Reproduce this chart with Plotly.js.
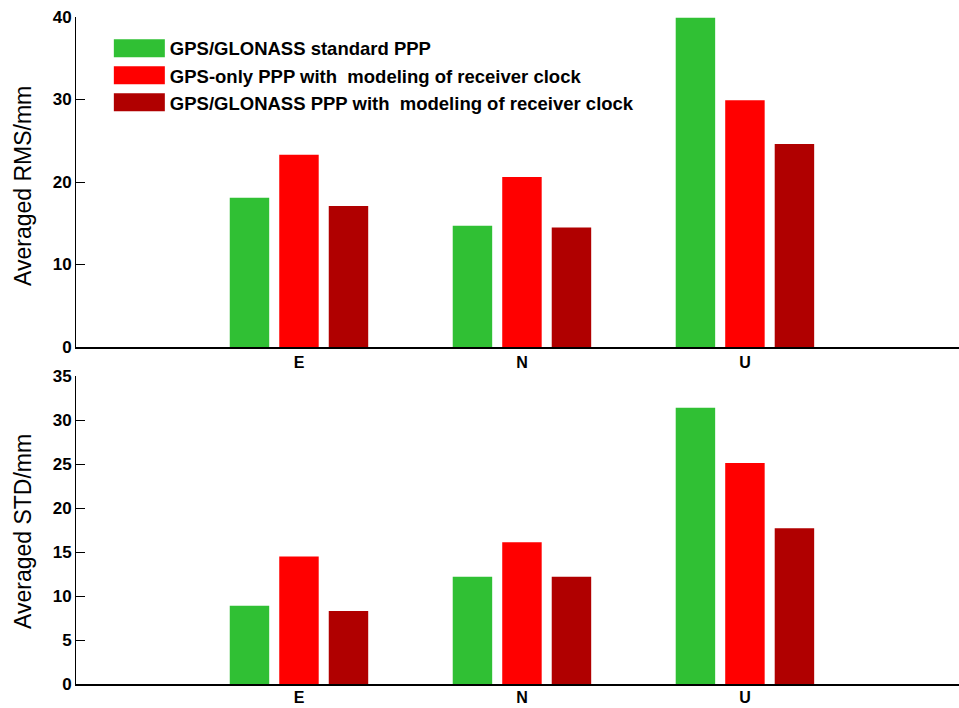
<!DOCTYPE html>
<html>
<head>
<meta charset="utf-8">
<script src="https://cdn.plot.ly/plotly-3.0.1.min.js"></script>
<style>html,body{margin:0;padding:0;background:#fff;}</style>
</head>
<body>
<div id="chart" style="width:959px;height:708px;"></div>
<script>
var categories = ['E', 'N', 'U'];
var catPos = [1, 2, 3];
var seriesNames = [
  'GPS/GLONASS standard PPP',
  'GPS-only PPP with  modeling of receiver clock',
  'GPS/GLONASS PPP with  modeling of receiver clock'
];
var rmsStandard = [18.1, 14.7, 39.9];
var rmsGpsOnly = [23.3, 20.6, 29.9];
var rmsGpsGlo = [17.1, 14.5, 24.6];
var stdStandard = [8.9, 12.2, 31.4];
var stdGpsOnly = [14.5, 16.1, 25.1];
var stdGpsGlo = [8.3, 12.2, 17.7];
var colors = ['rgb(48,192,52)', 'rgb(255,0,0)', 'rgb(176,0,0)'];

var FONT = 'Liberation Sans, Arial, Helvetica, sans-serif';

function mk(y, i, xa, ya, show) {
  return {
    type: 'bar', x: catPos, y: y, name: seriesNames[i],
    marker: {color: colors[i], line: {width: 0}},
    xaxis: xa, yaxis: ya, showlegend: show, legendgroup: 'g' + i,
    hoverinfo: 'y'
  };
}
var rmsSets = [rmsStandard, rmsGpsOnly, rmsGpsGlo];
var stdSets = [stdStandard, stdGpsOnly, stdGpsGlo];
var data = [];
for (var i = 0; i < 3; i++) data.push(mk(rmsSets[i], i, 'x', 'y', true));
for (var j = 0; j < 3; j++) data.push(mk(stdSets[j], j, 'x2', 'y2', false));

var H = 708;
function dom(topPx, botPx) { return [(H - botPx) / H, (H - topPx) / H]; }

var xCommon = {
  range: [0, 3.96], tickvals: catPos, ticktext: categories,
  showline: true, linecolor: '#000', linewidth: 1.5, ticks: '', showgrid: false,
  zeroline: false, tickfont: {family: FONT, size: 16, color: '#000', weight: 'bold'},
  fixedrange: true
};
var yCommon = {
  showline: true, linecolor: '#000', linewidth: 1, ticks: 'inside', ticklen: 9,
  tickcolor: '#000', tickwidth: 1, showgrid: false, zeroline: false,
  tickfont: {family: FONT, size: 17, color: '#000', weight: 'bold'}, fixedrange: true
};

var layout = {
  width: 959, height: 708,
  margin: {l: 76, r: 0, t: 0, b: 0},
  paper_bgcolor: '#fff', plot_bgcolor: '#fff',
  barmode: 'group', bargap: 0.334, bargroupgap: 0.203,
  showlegend: true,
  legend: {
    x: 0.027, y: 0.958, xanchor: 'left', yanchor: 'top',
    bgcolor: 'rgba(0,0,0,0)', borderwidth: 0,
    font: {family: FONT, size: 18.5, color: '#000', weight: 'bold'},
    itemwidth: 60, tracegroupgap: 1, traceorder: 'normal'
  },
  xaxis: Object.assign({}, xCommon, {domain: [0, 1], anchor: 'y'}),
  yaxis: Object.assign({}, yCommon, {domain: dom(17, 347), anchor: 'x', range: [0, 40], tickvals: [0, 10, 20, 30, 40]}),
  xaxis2: Object.assign({}, xCommon, {domain: [0, 1], anchor: 'y2', ticklabelstandoff: -2}),
  yaxis2: Object.assign({}, yCommon, {domain: dom(376, 684), anchor: 'x2', range: [0, 35], tickvals: [0, 5, 10, 15, 20, 25, 30, 35]}),
  annotations: [
    {text: 'Averaged RMS/mm', xref: 'paper', yref: 'paper', x: 0, xshift: -53, yshift: -4, y: (dom(17, 347)[0] + dom(17, 347)[1]) / 2,
     xanchor: 'center', yanchor: 'middle', textangle: -90, showarrow: false,
     font: {family: FONT, size: 23, color: '#000'}},
    {text: 'Averaged STD/mm', xref: 'paper', yref: 'paper', x: 0, xshift: -53, yshift: -2, y: (dom(376, 684)[0] + dom(376, 684)[1]) / 2,
     xanchor: 'center', yanchor: 'middle', textangle: -90, showarrow: false,
     font: {family: FONT, size: 23, color: '#000'}}
  ]
};

Plotly.newPlot('chart', data, layout, {staticPlot: true, displayModeBar: false}).then(function () {
  var items = document.querySelectorAll('.legend .traces');
  items.forEach(function (it) {
    var txt = it.querySelector('text.legendtext');
    var paths = it.querySelectorAll('.legendpoints path');
    if (!txt) return;
    var tx = parseFloat(txt.getAttribute('x')) || 0;
    paths.forEach(function (p) {
      p.setAttribute('transform', 'translate(' + (tx - 5 - 25.5) + ',0) scale(4.25,1.5)');
    });
  });
});
</script>
</body>
</html>
